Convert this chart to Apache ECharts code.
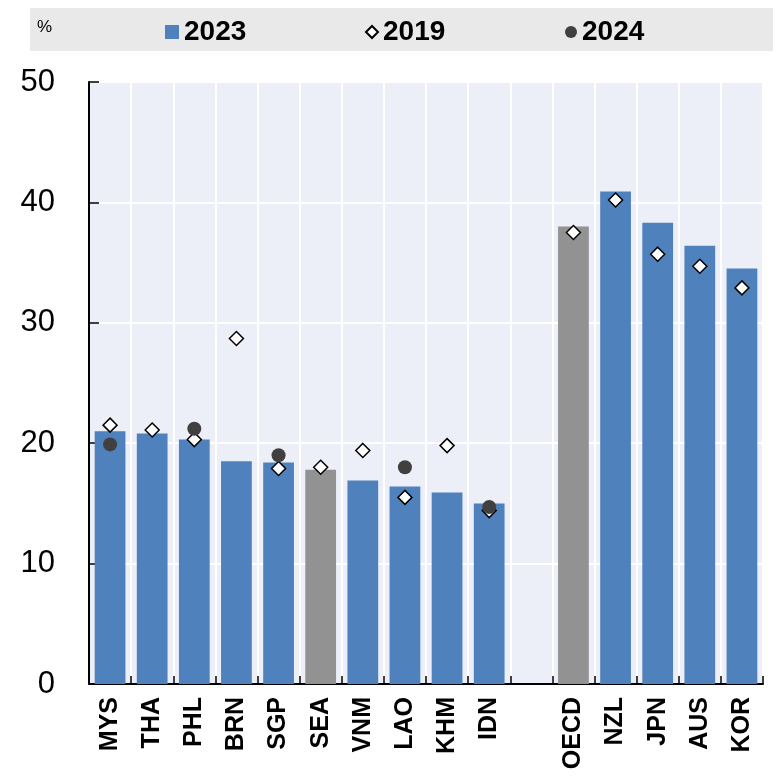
<!DOCTYPE html>
<html>
<head>
<meta charset="utf-8">
<script src="https://cdn.jsdelivr.net/npm/echarts@6/dist/echarts.min.js"></script>
<style>
html,body{margin:0;padding:0;background:#fff;}
#c{width:783px;height:779px;}
</style>
</head>
<body>
<div id="c"></div>
<script>
const categories = ['MYS','THA','PHL','BRN','SGP','SEA','VNM','LAO','KHM','IDN','','OECD','NZL','JPN','AUS','KOR'];
const values2023 = [21.0,20.8,20.3,18.5,18.4,17.8,16.9,16.4,15.9,15.0,null,38.0,40.9,38.3,36.4,34.5];
const values2019 = [21.5,21.1,20.3,28.7,17.9,18.0,19.4,15.5,19.8,14.4,null,37.5,40.2,35.7,34.7,32.9];
const values2024 = [19.9,null,21.2,null,19.0,null,null,18.0,null,14.7,null,null,null,null,null,null];
const aggregates = ['SEA','OECD'];
const yTicks = [0,10,20,30,40,50];

const BLUE = '#4F81BD', GREY = '#929292', DOT = '#404040';
const NARROW = "'Liberation Sans Narrow','Arial Narrow','Liberation Sans',Arial,sans-serif";
const SANS = "'Liberation Sans',Arial,sans-serif";

const chart = echarts.init(document.getElementById('c'), null, {renderer:'canvas'});
const legendText = {fontFamily: NARROW, fontWeight:'bold', fontSize:28, color:'#000'};
chart.setOption({
  animation:false,
  graphic:[
    {type:'rect', left:30, top:8, shape:{width:743, height:43}, style:{fill:'#E9E9E9'}, z:-1},
    {type:'text', left:37, top:19, style:{text:'%', fontFamily:NARROW, fontSize:17, fill:'#000'}}
  ],
  legend:[
    {data:['2023'], left:160, top:13, itemWidth:14, itemHeight:14, itemGap:8, textStyle:legendText, icon:'rect'},
    {data:['2019'], left:360, top:13, itemWidth:12, itemHeight:12, textStyle:legendText},
    {data:['2024'], left:560, top:13, itemWidth:12, itemHeight:12, textStyle:legendText}
  ],
  grid:{left:89, right:20, top:82, bottom:95, show:true, backgroundColor:'#ECEFF7', borderWidth:0},
  xAxis:{
    type:'category', data:categories, boundaryGap:true,
    axisLine:{show:true, lineStyle:{color:'#000', width:2}},
    axisTick:{show:true, inside:true, length:8, interval:0, lineStyle:{color:'#000', width:1.5}},
    splitLine:{show:true, interval:0, lineStyle:{color:'#fff', width:2}},
    axisLabel:{interval:0, rotate:90, fontFamily:SANS, fontWeight:'bold', fontSize:25, color:'#000', margin:13}
  },
  yAxis:{
    type:'value', min:yTicks[0], max:yTicks[yTicks.length-1], interval:10,
    axisLine:{show:true, lineStyle:{color:'#000', width:2}},
    axisTick:{show:true, inside:true, length:10, lineStyle:{color:'#000', width:1.5}},
    splitLine:{show:true, lineStyle:{color:'#fff', width:2}},
    axisLabel:{fontFamily:NARROW, fontSize:31, color:'#000', margin:34}
  },
  series:[
    {name:'2023', type:'bar', barCategoryGap:'27%', itemStyle:{color:BLUE},
     data: values2023.map((v,i)=>({value:v, itemStyle:{color: aggregates.includes(categories[i]) ? GREY : BLUE}}))},
    {name:'2019', type:'scatter', symbol:'diamond', symbolSize:14,
     itemStyle:{color:'#fff', borderColor:'#000', borderWidth:1.5, opacity:1}, data: values2019, z:3},
    {name:'2024', type:'scatter', symbol:'circle', symbolSize:14,
     itemStyle:{color:DOT, opacity:1}, data: values2024, z:4}
  ]
});
</script>
</body>
</html>
